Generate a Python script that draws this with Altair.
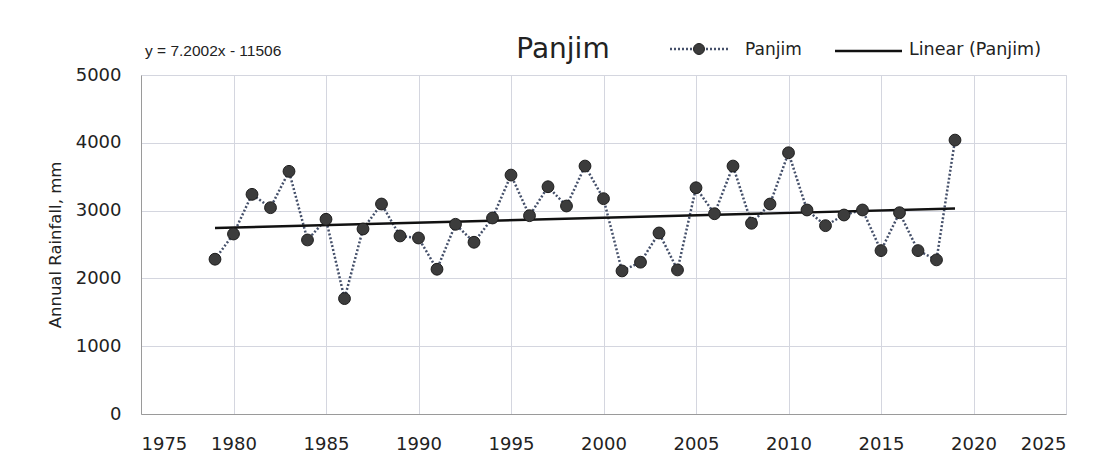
import altair as alt
import pandas as pd

years = list(range(1979, 2020))
rainfall = [2283, 2655, 3240, 3043, 3579, 2567, 2872, 1702, 2729, 3097,
            2626, 2596, 2135, 2798, 2533, 2891, 3524, 2925, 3352, 3068,
            3657, 3176, 2110, 2239, 2670, 2125, 3337, 2954, 3657, 2813,
            3097, 3853, 3009, 2778, 2935, 3009, 2410, 2969, 2410, 2273,
            4040]
trend_slope = 7.2002
trend_intercept = -11506
x_ticks = [1975, 1980, 1985, 1990, 1995, 2000, 2005, 2010, 2015, 2020, 2025]
y_ticks = [0, 1000, 2000, 3000, 4000, 5000]

FONT = "DejaVu Sans"
TXT = "#222222"
df = pd.DataFrame({"year": years, "rain": rainfall})
trend_years = [years[0], years[-1]]
tdf = pd.DataFrame({"year": trend_years,
                    "rain": [trend_slope * y + trend_intercept for y in trend_years]})
one = pd.DataFrame({"k": [0]})

xs = alt.Scale(domain=[1975, 2025], nice=False, zero=False)
ys = alt.Scale(domain=[0, 5000], nice=False)

xenc = alt.X("year:Q", scale=xs,
             axis=alt.Axis(values=x_ticks, format="d", title=None, grid=True,
                           gridColor="#d4d6df", gridWidth=1, ticks=False,
                           domainColor="#9a9a9a", labelFont=FONT, labelFontSize=18,
                           labelColor=TXT, labelPadding=21))
yenc = alt.Y("rain:Q", scale=ys,
             axis=alt.Axis(values=y_ticks, format="d", title="Annual Rainfall, mm", grid=True,
                           gridColor="#d4d6df", gridWidth=1, ticks=False,
                           domainColor="#9a9a9a", labelFont=FONT, labelFontSize=18,
                           labelColor=TXT, labelPadding=20,
                           titleFont=FONT, titleFontSize=16.5, titleFontWeight="normal",
                           titleColor=TXT, titlePadding=12))

line = alt.Chart(df).mark_line(color="#45506a", strokeWidth=2.5,
                               strokeDash=[2, 2]).encode(x=xenc, y=yenc)
trend = alt.Chart(tdf).mark_line(color="#111111", strokeWidth=2.4).encode(x="year:Q", y="rain:Q")
pts = alt.Chart(df).mark_point(filled=True, size=140, color="#3c3c3c", opacity=1,
                               stroke="#1e1e1e", strokeWidth=1).encode(x="year:Q", y="rain:Q")

eq = alt.Chart(one).mark_text(text="y = 7.2002x - 11506", font="Liberation Sans", fontSize=15.5,
                              align="left", baseline="middle", color=TXT).encode(
    x=alt.value(4), y=alt.value(-24))
title = alt.Chart(one).mark_text(text="Panjim", font=FONT, fontSize=28,
                                 align="center", baseline="middle", color=TXT).encode(
    x=alt.value(422), y=alt.value(-25))
leg1 = alt.Chart(one).mark_rule(color="#45506a", strokeWidth=2.5, strokeDash=[2, 2]).encode(
    x=alt.value(529), x2=alt.value(589), y=alt.value(-26))
leg1p = alt.Chart(one).mark_point(filled=True, size=120, color="#3c3c3c", opacity=1,
                                  stroke="#1e1e1e", strokeWidth=1).encode(
    x=alt.value(558), y=alt.value(-26))
leg1t = alt.Chart(one).mark_text(text="Panjim", font=FONT, fontSize=17, align="left",
                                 baseline="middle", color=TXT).encode(
    x=alt.value(604), y=alt.value(-25))
leg2 = alt.Chart(one).mark_rule(color="#111111", strokeWidth=2.4).encode(
    x=alt.value(694), x2=alt.value(761), y=alt.value(-24))
leg2t = alt.Chart(one).mark_text(text="Linear (Panjim)", font=FONT, fontSize=17.5, align="left",
                                 baseline="middle", color=TXT).encode(
    x=alt.value(768), y=alt.value(-25))

chart = alt.layer(line, trend, pts, eq, title, leg1, leg1p, leg1t, leg2, leg2t).properties(
    width=925, height=339,
    autosize=alt.AutoSizeParams(type="none"),
    padding={"left": 133, "top": 67, "right": 40, "bottom": 40},
).configure_view(stroke="#d4d6df", strokeWidth=1).configure(background="white")

chart.save("out.html", embed_options={"renderer": "svg", "actions": False})
